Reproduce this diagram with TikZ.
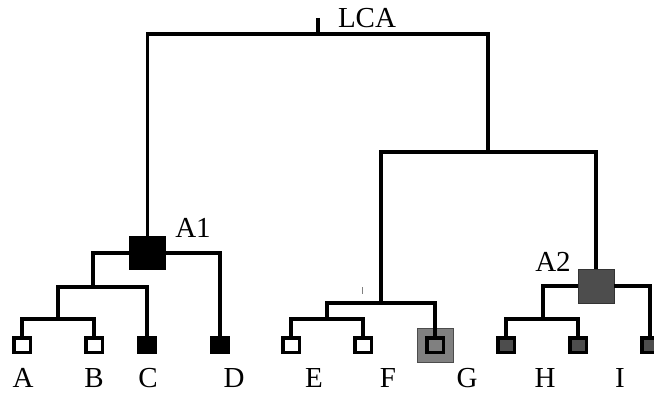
\documentclass[tikz,border=0pt]{standalone}
\usepackage{fontspec}
\setmainfont{Liberation Serif}
\definecolor{darkleaf}{HTML}{4D4D4D}
\definecolor{midleaf}{HTML}{808080}

\tikzstyle{leaf}=[rectangle, draw, line width=3.5pt, inner sep=0pt, minimum width=16.5pt, minimum height=14.5pt]
\tikzstyle{anc}=[rectangle, inner sep=0pt, minimum width=37pt, minimum height=34pt]
\tikzstyle{lbl}=[inner sep=0pt, font=\fontsize{29}{34}\selectfont]

\begin{document}
\begin{tikzpicture}[x=1pt, y=-1pt]
\useasboundingbox (0,0) rectangle (654,393);

\node[anc, fill=midleaf, draw=black!70, line width=0.6pt, minimum width=36pt](gbox) at (435, 345) {};

\node[leaf, fill=white](a) at (22, 345) {};
\node[leaf, fill=white](b) at (94, 345) {};
\node[leaf, fill=black](c) at (147, 345) {};
\node[leaf, fill=black](d) at (220, 345) {};
\node[leaf, fill=white](e) at (291, 345) {};
\node[leaf, fill=white](f) at (363, 345) {};
\node[leaf, fill=midleaf](g) at (435, 345) {};
\node[leaf, fill=darkleaf](h) at (506, 345) {};
\node[leaf, fill=darkleaf](i) at (578, 345) {};
\node[leaf, fill=darkleaf](j) at (650, 345) {};

\node[anc, fill=black](a1) at (147.5, 253) {};
\node[anc, fill=darkleaf, draw=black!80, line width=0.6pt, minimum width=36pt](a2) at (596, 286) {};

\coordinate (lca) at (318, 34);
\coordinate (lcatop) at (318, 18);
\coordinate (r1) at (488, 152);
\coordinate (efg) at (381, 303);
\coordinate (ef) at (327, 319);
\coordinate (abc) at (93, 287);
\coordinate (ab) at (58, 319);
\coordinate (hi) at (543, 319);

\begin{scope}[every path/.style={draw, line width=3.5pt}]
       \draw (lcatop) -- (lca);
       \draw (a1) |- (lca) -| (r1);
       \draw (efg) |- (r1) -| (a2);
       \draw (abc) |- (a1) -| (d);
       \draw (ab) |- (abc) -| (c);
       \draw (a) |- (ab) -| (b);
       \draw (ef) |- (efg) -| (g);
       \draw (e) |- (ef) -| (f);
       \draw (hi) |- (a2) -| (j);
       \draw (h) |- (hi) -| (i);
\end{scope}
\draw[gray, line width=1pt] (362, 287) -- (362, 294);

\node[lbl](lcalbl) at (367, 18) {LCA};
\node[lbl](a1lbl) at (193, 228) {A1};
\node[lbl](a2lbl) at (553, 262) {A2};
\node[lbl](albl) at (23, 378) {A};
\node[lbl](blbl) at (94, 378) {B};
\node[lbl](clbl) at (148, 378) {C};
\node[lbl](dlbl) at (234, 378) {D};
\node[lbl](elbl) at (314, 378) {E};
\node[lbl](flbl) at (388, 378) {F};
\node[lbl](glbl) at (467, 378) {G};
\node[lbl](hlbl) at (545, 378) {H};
\node[lbl](ilbl) at (620, 378) {I};
\end{tikzpicture}
\end{document}
